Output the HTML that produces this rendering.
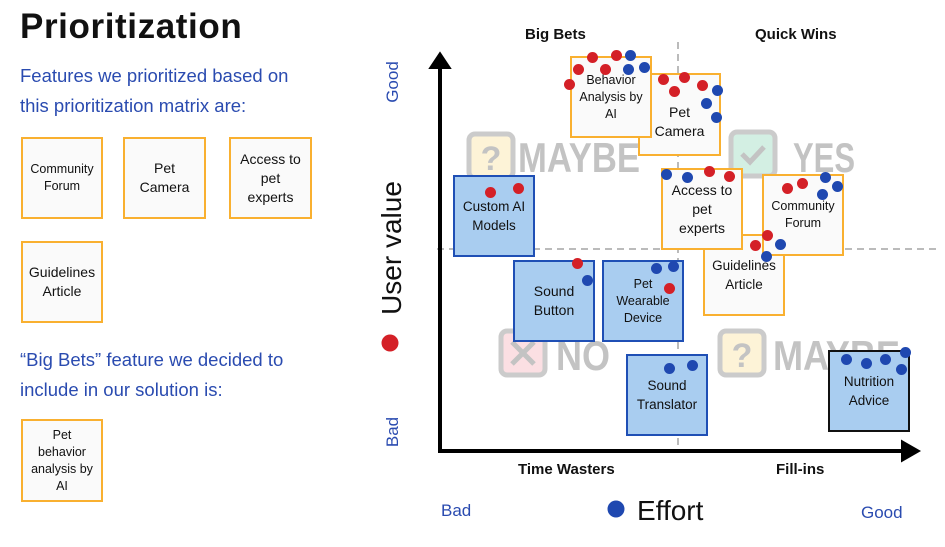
<!DOCTYPE html>
<html><head><meta charset="utf-8"><style>
*{margin:0;padding:0;box-sizing:border-box}
body{width:945px;height:547px;background:#fff;position:relative;overflow:hidden;font-family:"Liberation Sans",sans-serif}
.a{position:absolute}
.box{position:absolute;display:flex;align-items:center;justify-content:center;text-align:center;font-size:13.5px;line-height:19px;color:#111;border:2px solid #f9b030;background:#fafafa}
.bl{background:#a9cdf0;border-color:#1f4fb5}
.lb{font-size:12.5px;line-height:17px}
.d{position:absolute;width:11px;height:11px;border-radius:50%;margin:-5.5px 0 0 -5.5px}
.r{background:#d42027}.b{background:#1f48b0}
.t{position:absolute;font-size:18.5px;color:#2a4bb0;white-space:nowrap}
.h{position:absolute;font-weight:bold;font-size:15px;color:#111;white-space:nowrap}
</style></head><body>
<div class="a" style="left:20px;top:7px;font-size:35px;font-weight:bold;color:#111;letter-spacing:0.6px">Prioritization</div>
<div class="t" style="left:20px;top:65px">Features we prioritized based on</div>
<div class="t" style="left:20px;top:95px">this prioritization matrix are:</div>
<div class="box lb" style="left:21px;top:137px;width:82px;height:82px">Community<br>Forum</div>
<div class="box" style="left:123px;top:137px;width:83px;height:82px;font-size:14px">Pet<br>Camera</div>
<div class="box" style="left:229px;top:137px;width:83px;height:82px;font-size:14px">Access to<br>pet<br>experts</div>
<div class="box" style="left:21px;top:241px;width:82px;height:82px;font-size:14px">Guidelines<br>Article</div>
<div class="t" style="left:20px;top:349px">“Big Bets” feature we decided to</div>
<div class="t" style="left:20px;top:379px">include in our solution is:</div>
<div class="box lb" style="left:21px;top:419px;width:82px;height:83px">Pet<br>behavior<br>analysis by<br>AI</div>

<svg class="a" style="left:0;top:0" width="945" height="547">
<g stroke="#bbb" stroke-width="2" stroke-dasharray="7,5" fill="none">
<line x1="678" y1="42" x2="678" y2="450"/>
<line x1="437" y1="249" x2="940" y2="249"/>
</g>
<g opacity="0.5">
<rect x="469" y="134" width="44" height="44" rx="6" fill="#fde9b0" stroke="#999" stroke-width="5"/>
<text x="491" y="170" font-family="Liberation Sans" font-weight="bold" font-size="34" fill="#888" text-anchor="middle">?</text>
<text x="518" y="172" font-family="Liberation Sans" font-weight="bold" font-size="42" fill="#888" textLength="122" lengthAdjust="spacingAndGlyphs">MAYBE</text>
<rect x="731" y="132" width="44" height="44" rx="6" fill="#a8e0c8" stroke="#999" stroke-width="5"/>
<path d="M742 154 l8 8 l14 -15" stroke="#888" stroke-width="5" fill="none"/>
<text x="793" y="172" font-family="Liberation Sans" font-weight="bold" font-size="42" fill="#888" textLength="62" lengthAdjust="spacingAndGlyphs">YES</text>
<rect x="501" y="331" width="44" height="44" rx="6" fill="#f8c0c8" stroke="#999" stroke-width="5"/>
<path d="M512 342 l22 22 M534 342 l-22 22" stroke="#888" stroke-width="5"/>
<text x="556" y="370" font-family="Liberation Sans" font-weight="bold" font-size="42" fill="#888" textLength="54" lengthAdjust="spacingAndGlyphs">NO</text>
<rect x="720" y="331" width="44" height="44" rx="6" fill="#fde9b0" stroke="#999" stroke-width="5"/>
<text x="742" y="367" font-family="Liberation Sans" font-weight="bold" font-size="34" fill="#888" text-anchor="middle">?</text>
<text x="773" y="370" font-family="Liberation Sans" font-weight="bold" font-size="42" fill="#888" textLength="127" lengthAdjust="spacingAndGlyphs">MAYBE</text>
</g>
<g stroke="#000" stroke-width="4" fill="#000">
<line x1="440" y1="65" x2="440" y2="451"/>
<line x1="438" y1="451" x2="905" y2="451"/>
<path d="M432 67 L440 55 L448 67 Z"/>
<path d="M903 443 L917 451 L903 459 Z"/>
</g>
<text transform="translate(398,82) rotate(-90)" font-family="Liberation Sans" font-size="17" fill="#2a4bb0" text-anchor="middle">Good</text>
<text transform="translate(401,248) rotate(-90)" font-family="Liberation Sans" font-size="28" fill="#111" text-anchor="middle">User value</text>
<circle cx="390" cy="343" r="8.5" fill="#d42027"/>
<text transform="translate(398,432) rotate(-90)" font-family="Liberation Sans" font-size="17" fill="#2a4bb0" text-anchor="middle">Bad</text>
<text x="441" y="516" font-family="Liberation Sans" font-size="17" fill="#2a4bb0">Bad</text>
<circle cx="616" cy="509" r="8.5" fill="#1f48b0"/>
<text x="637" y="520" font-family="Liberation Sans" font-size="28" fill="#111">Effort</text>
<text x="861" y="518" font-family="Liberation Sans" font-size="17" fill="#2a4bb0">Good</text>
</svg>
<div class="h" style="left:525px;top:26px">Big Bets</div>
<div class="h" style="left:755px;top:26px">Quick Wins</div>
<div class="h" style="left:518px;top:461px">Time Wasters</div>
<div class="h" style="left:776px;top:461px">Fill-ins</div>

<div class="box" style="left:638px;top:73px;width:83px;height:83px;font-size:14px;padding-top:14px">Pet<br>Camera</div>
<div class="box lb" style="left:570px;top:56px;width:82px;height:82px">Behavior<br>Analysis by<br>AI</div>
<div class="box bl" style="left:453px;top:175px;width:82px;height:82px">Custom AI<br>Models</div>
<div class="box" style="left:703px;top:234px;width:82px;height:82px">Guidelines<br>Article</div>
<div class="box" style="left:661px;top:168px;width:82px;height:82px;font-size:14px">Access to<br>pet<br>experts</div>
<div class="box lb" style="left:762px;top:174px;width:82px;height:82px">Community<br>Forum</div>
<div class="box bl" style="left:513px;top:260px;width:82px;height:82px;font-size:14px">Sound<br>Button</div>
<div class="box bl lb" style="left:602px;top:260px;width:82px;height:82px">Pet<br>Wearable<br>Device</div>
<div class="box bl" style="left:626px;top:354px;width:82px;height:82px">Sound<br>Translator</div>
<div class="box bl" style="left:828px;top:350px;width:82px;height:82px;border-color:#111">Nutrition<br>Advice</div>

<div class="d r" style="left:592px;top:57px"></div><div class="d r" style="left:616px;top:55px"></div>
<div class="d r" style="left:578px;top:69px"></div><div class="d r" style="left:605px;top:69px"></div>
<div class="d r" style="left:569px;top:84px"></div><div class="d b" style="left:630px;top:55px"></div>
<div class="d b" style="left:628px;top:69px"></div><div class="d b" style="left:644px;top:67px"></div>
<div class="d r" style="left:663px;top:79px"></div><div class="d r" style="left:684px;top:77px"></div>
<div class="d r" style="left:702px;top:85px"></div><div class="d r" style="left:674px;top:91px"></div>
<div class="d b" style="left:717px;top:90px"></div><div class="d b" style="left:706px;top:103px"></div>
<div class="d b" style="left:716px;top:117px"></div>
<div class="d r" style="left:490px;top:192px"></div><div class="d r" style="left:518px;top:188px"></div>
<div class="d b" style="left:666px;top:174px"></div><div class="d b" style="left:687px;top:177px"></div>
<div class="d r" style="left:709px;top:171px"></div><div class="d r" style="left:729px;top:176px"></div>
<div class="d r" style="left:787px;top:188px"></div><div class="d r" style="left:802px;top:183px"></div>
<div class="d b" style="left:825px;top:177px"></div><div class="d b" style="left:837px;top:186px"></div>
<div class="d b" style="left:822px;top:194px"></div>
<div class="d r" style="left:755px;top:245px"></div><div class="d r" style="left:767px;top:235px"></div>
<div class="d b" style="left:780px;top:244px"></div><div class="d b" style="left:766px;top:256px"></div>
<div class="d r" style="left:577px;top:263px"></div><div class="d b" style="left:587px;top:280px"></div>
<div class="d b" style="left:656px;top:268px"></div><div class="d b" style="left:673px;top:266px"></div>
<div class="d r" style="left:669px;top:288px"></div>
<div class="d b" style="left:669px;top:368px"></div><div class="d b" style="left:692px;top:365px"></div>
<div class="d b" style="left:846px;top:359px"></div><div class="d b" style="left:866px;top:363px"></div>
<div class="d b" style="left:885px;top:359px"></div><div class="d b" style="left:905px;top:352px"></div>
<div class="d b" style="left:901px;top:369px"></div>
</body></html>
